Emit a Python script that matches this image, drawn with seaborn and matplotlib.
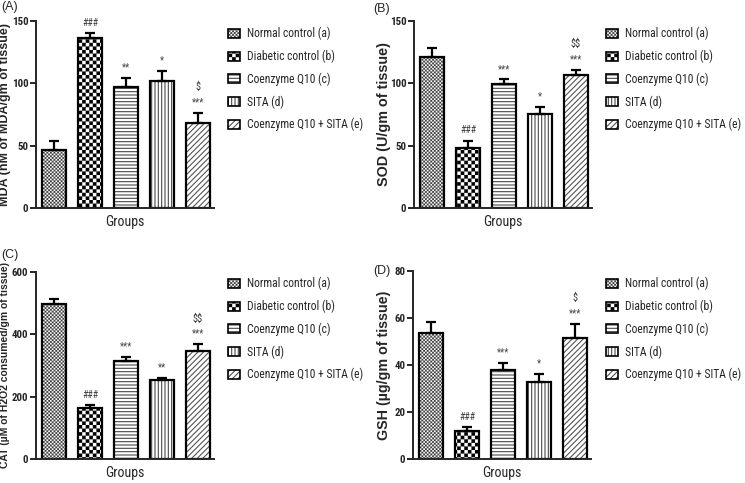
import numpy as np
import pandas as pd
import matplotlib
matplotlib.use("Agg")
import matplotlib.pyplot as plt
import matplotlib.hatch as mhatch
from matplotlib.path import Path
from matplotlib.patches import Patch
from matplotlib import font_manager as fm
from matplotlib.colors import to_rgba
import seaborn as sns

# ---------------- data ----------------
groups = ["Normal control (a)", "Diabetic control (b)", "Coenzyme Q10 (c)",
          "SITA (d)", "Coenzyme Q10 + SITA (e)"]

mda_mean = [47.0, 136.0, 97.0, 101.5, 68.0]
mda_err = [6.5, 4.0, 7.5, 8.5, 8.0]
mda_marks = ["", "###", "**", "*", "***"]
mda_marks2 = ["", "", "", "", "$"]

sod_mean = [121.0, 48.0, 99.0, 75.0, 106.5]
sod_err = [7.0, 6.0, 4.0, 6.0, 4.0]
sod_marks = ["", "###", "***", "*", "***"]
sod_marks2 = ["", "", "", "", "$$"]

cat_mean = [498.0, 162.0, 315.0, 252.0, 345.0]
cat_err = [14.0, 10.0, 12.0, 9.0, 22.0]
cat_marks = ["", "###", "***", "**", "***"]
cat_marks2 = ["", "", "", "", "$$"]

gsh_mean = [53.5, 12.0, 37.6, 32.8, 51.4]
gsh_err = [4.5, 1.5, 3.2, 3.5, 6.0]
gsh_marks = ["", "###", "***", "*", "***"]
gsh_marks2 = ["", "", "", "", "$"]

panel_letters = ["(A)", "(B)", "(C)", "(D)"]
ylabels = ["MDA (nM of MDA/gm of tissue)", "SOD (U/gm of tissue)",
           "CAT (\u00b5M of H2O2 consumed/gm of tissue)", "GSH (\u00b5g/gm of tissue)"]
yticks_list = [[0, 50, 100, 150], [0, 50, 100, 150], [0, 200, 400, 600], [0, 20, 40, 60, 80]]
xlabel = "Groups"


# ---------------- checkerboard hatch ----------------
class CheckerHatch(mhatch.HatchPatternBase):
    def __init__(self, hatch, density):
        cnt = hatch.count('.')
        self.n = int(round(cnt * density * 7 / 6)) * 2 if cnt else 0
        self.num_vertices = (self.n * self.n // 2) * 5

    def set_vertices_and_codes(self, vertices, codes):
        n = self.n
        s = 1.0 / n
        k = 0
        for i in range(n):
            for j in range(n):
                if (i + j) % 2 == 0:
                    x0, y0 = i * s, j * s
                    vertices[k:k + 5] = [(x0, y0), (x0 + s, y0), (x0 + s, y0 + s),
                                         (x0, y0 + s), (x0, y0)]
                    codes[k:k + 5] = [Path.MOVETO, Path.LINETO, Path.LINETO,
                                      Path.LINETO, Path.CLOSEPOLY]
                    k += 5


mhatch._hatch_types = [t for t in mhatch._hatch_types
                       if t is not mhatch.SmallFilledCircles] + [CheckerHatch]

# ---------------- style ----------------
sns.set_style("ticks")


def pick(names):
    for n in names:
        try:
            fm.findfont(fm.FontProperties(family=n), fallback_to_default=False)
            return n
        except Exception:
            pass
    return None


narrow = pick(["Liberation Sans Narrow", "Arial Narrow", "Roboto Condensed",
               "Open Sans Condensed"])
sans = pick(["Liberation Sans", "Arial"]) or "DejaVu Sans"
if narrow:
    body = narrow
    leg_fs, tick_fs, grp_fs, star_fs = 8.4, 7.8, 10.0, 7.0
else:
    body = sans
    leg_fs, tick_fs, grp_fs, star_fs = 7.5, 7.5, 9.0, 6.5
plt.rcParams["font.family"] = [body, "DejaVu Sans"]
plt.rcParams["hatch.linewidth"] = 0.8

hatches = ["....", "..", "-----", "|||||", "//////"]
hatch_cols = ["#3c3c3c", "black", "#4a4a4a", "#4a4a4a", "#555555"]

fig = plt.figure(figsize=(7.45, 4.83), dpi=100)
W, H = 745.0, 483.0


def ax_rect(left, right, top, bottom):
    return [left / W, 1 - bottom / H, (right - left) / W, (bottom - top) / H]


def thin_hatch(p):
    p._hatch_linewidth = 0.05
    if hasattr(p, "set_hatch_linewidth"):
        try:
            p.set_hatch_linewidth(0.05)
        except Exception:
            pass
    orig = p.draw

    def draw(renderer, _orig=orig):
        with matplotlib.rc_context({"hatch.linewidth": 0.05}):
            _orig(renderer)
    p.draw = draw


def style_patch(p, h, c):
    p.set_hatch(h)
    p._hatch_color = to_rgba(c)
    if "." in h:
        thin_hatch(p)


rects = [ax_rect(36, 214, 20.7, 208.3), ax_rect(414, 592, 20.7, 208.3),
         ax_rect(36, 214, 271.7, 459), ax_rect(413, 591, 270.7, 459)]
legend_pos = [(228, 27), (606, 27), (228, 277), (606, 277)]
letter_pos = [(1, 1), (373, 3), (1, 249), (373, 265)]
ylabel_sizes = [9.0, 10.4, 7.5, 10.3]
ylabel_x = [-0.14, -0.13, -0.148, -0.125]

means = [mda_mean, sod_mean, cat_mean, gsh_mean]
errs = [mda_err, sod_err, cat_err, gsh_err]
marks = [mda_marks, sod_marks, cat_marks, gsh_marks]
marks2 = [mda_marks2, sod_marks2, cat_marks2, gsh_marks2]

for i in range(4):
    ax = fig.add_axes(rects[i])
    df = pd.DataFrame({"group": groups, "value": means[i]})
    sns.barplot(data=df, x="group", y="value", hue="group", order=groups,
                hue_order=groups, palette=["white"] * 5, edgecolor="black",
                linewidth=1.6, width=0.67, legend=False, ax=ax, errorbar=None)
    for p, h, c in zip(ax.patches, hatches, hatch_cols):
        style_patch(p, h, c)
    xs = np.arange(len(groups))
    ax.errorbar(xs, means[i], yerr=[np.zeros(5), errs[i]], fmt="none",
                ecolor="black", elinewidth=1.6, capsize=3.8, capthick=1.6, zorder=1)
    for x, m, e, s1, s2 in zip(xs, means[i], errs[i], marks[i], marks2[i]):
        if s1:
            ax.annotate(s1, (x, m + e), xytext=(0, 4), textcoords="offset points",
                        ha="center", va="bottom", fontsize=star_fs, color="#444444")
        if s2:
            ax.annotate(s2.replace("$", r"\$"), (x, m + e), xytext=(0, 15),
                        textcoords="offset points", ha="center", va="bottom",
                        fontsize=star_fs + 0.5, color="#333333")
    yt = yticks_list[i]
    ax.set_ylim(0, yt[-1])
    ax.set_yticks(yt)
    ax.set_yticklabels([str(v) for v in yt], fontsize=tick_fs, fontweight="bold")
    ax.set_xlim(-0.5, 4.45)
    ax.set_xticks([])
    ax.set_xlabel(xlabel, fontsize=grp_fs, labelpad=5)
    ax.set_ylabel(ylabels[i], fontsize=ylabel_sizes[i], fontweight="bold",
                  family=[sans, "DejaVu Sans"])
    ax.yaxis.set_label_coords(ylabel_x[i], 0.5)
    sns.despine(ax=ax)
    for sp in ["left", "bottom"]:
        ax.spines[sp].set_linewidth(1.4)
    ax.tick_params(axis="y", direction="out", length=4, width=1.4, pad=1.5)

    handles = []
    for h, c in zip(hatches, hatch_cols):
        handles.append(Patch(facecolor="white", edgecolor="black", hatch=h,
                             linewidth=1.2))
    lx, ly = legend_pos[i]
    leg = ax.legend(handles, groups, loc="upper left",
                    bbox_to_anchor=(lx / W, 1 - ly / H), bbox_transform=fig.transFigure,
                    frameon=False, fontsize=leg_fs, handlelength=1.0, handleheight=0.8,
                    handletextpad=0.6, labelspacing=0.8, borderaxespad=0, borderpad=0)
    for lp, h, c in zip(leg.get_patches(), hatches, hatch_cols):
        style_patch(lp, h, c)

    px, py = letter_pos[i]
    fig.text(px / W, 1 - py / H, panel_letters[i], ha="left", va="top",
             fontsize=9, family=[sans, "DejaVu Sans"])

fig.savefig("out.png", dpi=100)
